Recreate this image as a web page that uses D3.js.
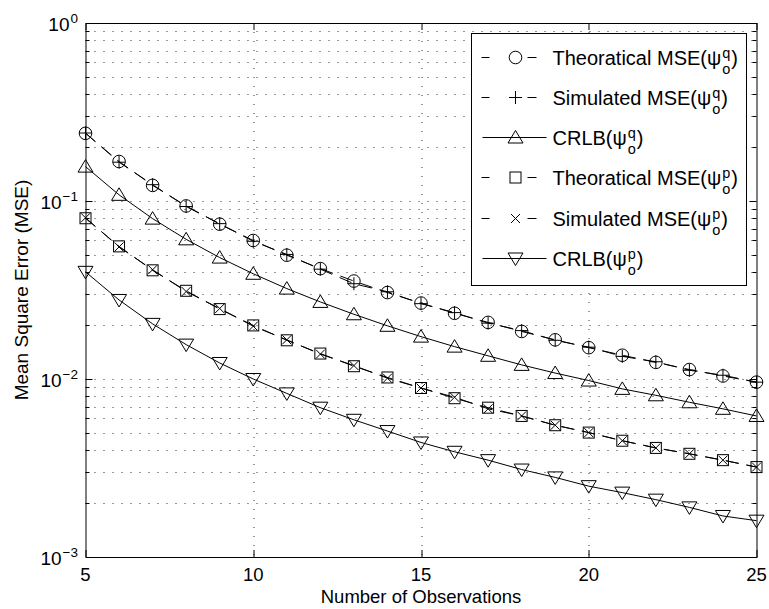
<!DOCTYPE html>
<html>
<head>
<meta charset="utf-8">
<script src="https://cdn.jsdelivr.net/npm/d3@7"></script>
<style>
  body { margin: 0; background: #fff; }
  text { font-family: "Liberation Sans", Arial, Helvetica, sans-serif; fill: #000; }
</style>
</head>
<body>
<div id="chart"></div>
<script>

// number of observations
var obs = [5, 6, 7, 8, 9, 10, 11, 12, 13, 14, 15, 16, 17, 18, 19, 20, 21, 22, 23, 24, 25];

var theoQ = [0.2400, 0.1667, 0.1224, 0.0938, 0.0741, 0.0600, 0.0496, 0.0417, 0.0355, 0.0306, 0.0267,
             0.0234, 0.0208, 0.0185, 0.0166, 0.0150, 0.0136, 0.0124, 0.0113, 0.0104, 0.0096];
var simQ   = [0.2410, 0.1652, 0.1235, 0.0931, 0.0746, 0.0594, 0.0501, 0.0414, 0.0343, 0.0309, 0.0265,
             0.0236, 0.0206, 0.0187, 0.0165, 0.0151, 0.0134, 0.0125, 0.0112, 0.0105, 0.0096];
var crlbQ  = [0.1560, 0.1083, 0.0796, 0.0609, 0.0481, 0.0390, 0.0322, 0.0271, 0.0231, 0.0199, 0.0173,
             0.0152, 0.0135, 0.0120, 0.0108, 0.0098, 0.0088, 0.0081, 0.0074, 0.0068, 0.0062];
var theoP  = [0.0800, 0.0556, 0.0408, 0.0313, 0.0247, 0.0200, 0.0165, 0.0139, 0.0118, 0.0102, 0.0089,
             0.0078, 0.0069, 0.0062, 0.0055, 0.0050, 0.0045, 0.0041, 0.0038, 0.0035, 0.0032];
var simP   = [0.0805, 0.0552, 0.0411, 0.0310, 0.0249, 0.0198, 0.0166, 0.0138, 0.0119, 0.0101, 0.0089,
             0.0079, 0.0068, 0.0062, 0.0055, 0.0050, 0.0045, 0.0041, 0.0038, 0.0035, 0.0032];
var crlbP  = [0.0400, 0.0278, 0.0204, 0.0156, 0.0123, 0.0100, 0.0083, 0.0069, 0.0059, 0.0051, 0.0044,
             0.0039, 0.0035, 0.0031, 0.0028, 0.0025, 0.0023, 0.0021, 0.0019, 0.0017, 0.0016];

var xTicks = [5, 10, 15, 20, 25];
var yDecades = [0, -1, -2, -3];   // exponents for the 10^k labels

var legendNames = ['Theoratical MSE(\u03c8', 'Simulated MSE(\u03c8', 'CRLB(\u03c8',
                   'Theoratical MSE(\u03c8', 'Simulated MSE(\u03c8', 'CRLB(\u03c8'];
var legendSup = ['q', 'q', 'q', 'p', 'p', 'p'];

var series = [
  {values: theoQ, marker: 'circle', dash: true},
  {values: simQ, marker: 'plus', dash: true},
  {values: crlbQ, marker: 'tri', dash: false},
  {values: theoP, marker: 'square', dash: true},
  {values: simP, marker: 'cross', dash: true},
  {values: crlbP, marker: 'dtri', dash: false}
];

var W = 769, H = 609;
var margin = {left: 85.5, right: 12.5, top: 23, bottom: 52};
var plotW = W - margin.left - margin.right;
var plotH = H - margin.top - margin.bottom;

var svg = d3.select('#chart').append('svg')
  .attr('width', W)
  .attr('height', H);

var g = svg.append('g')
  .attr('transform', 'translate(' + margin.left + ',' + margin.top + ')');

var xScale = d3.scaleLinear().domain([5, 25]).range([0, plotW]);
var yScale = d3.scaleLog().domain([1e-3, 1]).range([plotH, 0]);

// minor values 1..9 x 10^k, inside the axes only
var minorVals = [];
[-3, -2, -1].forEach(function(k) {
  for (var m = 1; m <= 9; m++) minorVals.push(m * Math.pow(10, k));
});
minorVals = minorVals.filter(function(v) { return v > 1e-3 && v < 1; });

var dots = '1,8';
var gridColor = '#333';

// grid (dotted like matlab)
g.selectAll('.hgrid')
  .data(minorVals)
  .enter().append('line')
  .attr('x1', 0).attr('x2', plotW)
  .attr('y1', function(d) { return Math.round(yScale(d)) + 0.5; })
  .attr('y2', function(d) { return Math.round(yScale(d)) + 0.5; })
  .attr('stroke', gridColor).attr('stroke-width', 1)
  .attr('stroke-dasharray', dots);

g.selectAll('.vgrid')
  .data(xTicks.slice(1, -1))
  .enter().append('line')
  .attr('x1', function(d) { return Math.round(xScale(d)) + 0.5; })
  .attr('x2', function(d) { return Math.round(xScale(d)) + 0.5; })
  .attr('y1', 0).attr('y2', plotH)
  .attr('stroke', gridColor).attr('stroke-width', 1)
  .attr('stroke-dasharray', dots);

// ticks on all four sides, pointing inward
minorVals.forEach(function(v) {
  var y = Math.round(yScale(v)) + 0.5;
  var major = Math.abs(Math.log10(v) - Math.round(Math.log10(v))) < 1e-9;
  var len = major ? 7 : 4;
  g.append('line').attr('x1', 0).attr('x2', len).attr('y1', y).attr('y2', y).attr('stroke', '#000');
  g.append('line').attr('x1', plotW - len).attr('x2', plotW).attr('y1', y).attr('y2', y).attr('stroke', '#000');
});
xTicks.forEach(function(t) {
  var x = Math.round(xScale(t)) + 0.5;
  g.append('line').attr('x1', x).attr('x2', x).attr('y1', plotH).attr('y2', plotH - 7).attr('stroke', '#000');
  g.append('line').attr('x1', x).attr('x2', x).attr('y1', 0).attr('y2', 7).attr('stroke', '#000');
});

// tick labels
g.selectAll('.xlab')
  .data(xTicks)
  .enter().append('text')
  .attr('x', function(d) { return xScale(d); })
  .attr('y', plotH + 24)
  .attr('text-anchor', 'middle')
  .style('font-size', '18.5px')
  .text(function(d) { return d; });

var ylab = g.selectAll('.ylab')
  .data(yDecades)
  .enter().append('text')
  .attr('x', -7.5)
  .attr('y', function(d) { return yScale(Math.pow(10, d)) + 8; })
  .attr('text-anchor', 'end')
  .style('font-size', '19px');
ylab.append('tspan').text('10');
ylab.append('tspan')
  .attr('dy', -8)
  .attr('dx', 1)
  .style('font-size', '13.5px')
  .text(function(d) { return d === 0 ? '0' : '\u2212' + (-d); });

// axis titles
svg.append('text')
  .attr('x', margin.left + plotW / 2)
  .attr('y', H - 6)
  .attr('text-anchor', 'middle')
  .style('font-size', '18.5px')
  .text('Number of Observations');

svg.append('text')
  .attr('transform', 'translate(28,' + (margin.top + plotH / 2) + ') rotate(-90)')
  .attr('text-anchor', 'middle')
  .style('font-size', '19px')
  .text('Mean Square Error (MSE)');

// markers
var drawMarker = (sel, type, x, y) => {
  var m;
  if (type == 'circle') {
    m = sel.append('circle').attr('cx', x).attr('cy', y).attr('r', 6.3);
  } else if (type == 'plus') {
    m = sel.append('path').attr('d', 'M' + (x - 6.5) + ',' + y + 'h13M' + x + ',' + (y - 6.5) + 'v13');
  } else if (type == 'cross') {
    m = sel.append('path').attr('d', 'M' + (x - 4.5) + ',' + (y - 4.5) + 'l9,9M' + (x + 4.5) + ',' + (y - 4.5) + 'l-9,9');
  } else if (type == 'square') {
    m = sel.append('rect').attr('x', x - 5.5).attr('y', y - 5.5).attr('width', 11).attr('height', 11);
  } else if (type == 'tri') {
    m = sel.append('path').attr('d', 'M' + x + ',' + (y - 7) + 'L' + (x + 7.5) + ',' + (y + 5.5) + 'L' + (x - 7.5) + ',' + (y + 5.5) + 'Z');
  } else if (type == 'dtri') {
    m = sel.append('path').attr('d', 'M' + x + ',' + (y + 7) + 'L' + (x + 7.5) + ',' + (y - 5.5) + 'L' + (x - 7.5) + ',' + (y - 5.5) + 'Z');
  }
  m.attr('fill', 'none').attr('stroke', '#000').attr('stroke-width', 1);
}

var line = d3.line()
  .x(function(d) { return xScale(d[0]); })
  .y(function(d) { return yScale(d[1]); });

series.forEach(function(s) {
  var pts = obs.map(function(n, i) { return [n, s.values[i]]; });
  g.append('path')
    .datum(pts)
    .attr('d', line)
    .attr('fill', 'none')
    .attr('stroke', '#000')
    .attr('stroke-width', 1)
    .attr('stroke-dasharray', s.dash ? '13,8' : null);
  var mg = g.append('g');
  pts.forEach(function(p) {
    drawMarker(mg, s.marker, xScale(p[0]), yScale(p[1]));
  });
});

// axes box
g.append('rect')
  .attr('x', 0.5).attr('y', 0.5)
  .attr('width', plotW).attr('height', plotH)
  .attr('fill', 'none').attr('stroke', '#000').attr('stroke-width', 1);

// legend
var lg = svg.append('g');
var lx = 471.5, ly = 33.5, lw = 275, lh = 252;
lg.append('rect')
  .attr('x', lx).attr('y', ly).attr('width', lw).attr('height', lh)
  .attr('fill', '#fff').attr('stroke', '#000').attr('stroke-width', 1);

series.forEach(function(s, i) {
  var cy = Math.round(ly + 23 + i * 40.3) + 0.5;
  var mx = lx + 44;
  if (s.dash) {
    // matlab style "- o -"
    lg.append('line').attr('x1', lx + 10).attr('x2', lx + 18).attr('y1', cy).attr('y2', cy).attr('stroke', '#000');
    lg.append('line').attr('x1', lx + 56).attr('x2', lx + 65).attr('y1', cy).attr('y2', cy).attr('stroke', '#000');
  } else {
    lg.append('line').attr('x1', lx + 11).attr('x2', lx + 75).attr('y1', cy).attr('y2', cy).attr('stroke', '#000');
  }
  drawMarker(lg, s.marker, mx, cy);

  var tx0 = lx + 81;
  var t = lg.append('text')
    .attr('x', tx0)
    .attr('y', cy + 7)
    .style('font-size', '20px')
    .text(legendNames[i]);
  var tx = tx0 + t.node().getComputedTextLength() + 1;
  lg.append('text').attr('x', tx).attr('y', cy).style('font-size', '14.5px').text(legendSup[i]);
  lg.append('text').attr('x', tx).attr('y', cy + 16).style('font-size', '14.5px').text('o');
  lg.append('text').attr('x', tx + 9).attr('y', cy + 7).style('font-size', '20px').text(')');
});

</script>
</body>
</html>
